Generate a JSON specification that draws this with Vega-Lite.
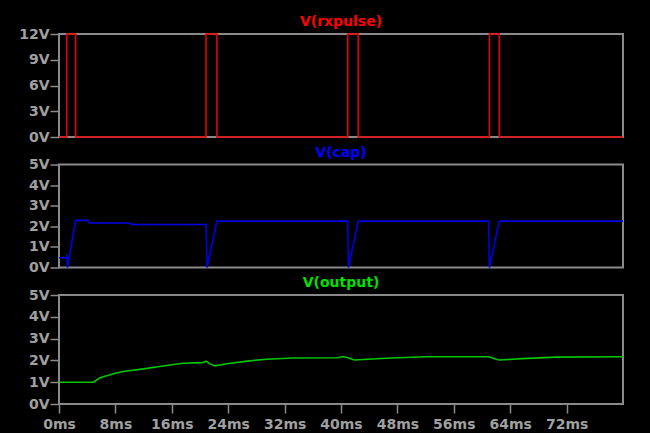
{
  "$schema": "https://vega.github.io/schema/vega-lite/v6.json",
  "background": "black",
  "padding": {"left": 17, "top": 14, "right": 27, "bottom": 1},
  "bounds": "flush",
  "spacing": 27.5,
  "config": {
    "view": {"stroke": "#8a8a8a", "strokeWidth": 2, "fill": "black"},
    "axis": {
      "grid": false,
      "domain": false,
      "tickColor": "#8a8a8a",
      "tickWidth": 1.5,
      "tickSize": 9,
      "labelColor": "#a0a0a0",
      "labelFont": "DejaVu Sans",
      "labelFontSize": 14,
      "labelFontWeight": "bold",
      "labelFlush": false,
      "labelOverlap": false,
      "title": null
    },
    "title": {"font": "DejaVu Sans", "fontSize": 14, "fontWeight": "bold", "frame": "group", "anchor": "middle", "offset": -2}
  },
  "datasets": {
    "rx": [
      {"t": 0, "v": 0}, {"t": 1.1, "v": 0}, {"t": 1.1, "v": 12}, {"t": 2.35, "v": 12}, {"t": 2.35, "v": 0},
      {"t": 20.85, "v": 0}, {"t": 20.85, "v": 12}, {"t": 22.4, "v": 12}, {"t": 22.4, "v": 0},
      {"t": 40.95, "v": 0}, {"t": 40.95, "v": 12}, {"t": 42.45, "v": 12}, {"t": 42.45, "v": 0},
      {"t": 61.05, "v": 0}, {"t": 61.05, "v": 12}, {"t": 62.45, "v": 12}, {"t": 62.45, "v": 0},
      {"t": 80, "v": 0}
    ],
    "cap": [
      {"t": 0, "v": 0.47}, {"t": 1.05, "v": 0.47}, {"t": 1.1, "v": 0.62}, {"t": 1.2, "v": 0.0},
      {"t": 2.35, "v": 2.29}, {"t": 4.1, "v": 2.29}, {"t": 4.3, "v": 2.16}, {"t": 10.0, "v": 2.16},
      {"t": 10.3, "v": 2.09}, {"t": 20.85, "v": 2.09}, {"t": 21.0, "v": 0.0}, {"t": 22.4, "v": 2.25},
      {"t": 40.95, "v": 2.25}, {"t": 41.05, "v": 0.0}, {"t": 42.45, "v": 2.25},
      {"t": 60.95, "v": 2.25}, {"t": 61.05, "v": 0.0}, {"t": 62.45, "v": 2.25}, {"t": 80, "v": 2.25}
    ],
    "out": [
      {"t": 0, "v": 1.0}, {"t": 4.9, "v": 1.0}, {"t": 5.8, "v": 1.2}, {"t": 8.0, "v": 1.41},
      {"t": 9.1, "v": 1.49}, {"t": 12.0, "v": 1.61}, {"t": 14.0, "v": 1.71}, {"t": 16.0, "v": 1.8},
      {"t": 17.6, "v": 1.87}, {"t": 20.4, "v": 1.9}, {"t": 20.9, "v": 1.96}, {"t": 21.4, "v": 1.84},
      {"t": 22.1, "v": 1.75}, {"t": 23.8, "v": 1.85}, {"t": 27.0, "v": 1.98}, {"t": 29.4, "v": 2.05},
      {"t": 33.2, "v": 2.11}, {"t": 39.5, "v": 2.12}, {"t": 40.3, "v": 2.18}, {"t": 41.2, "v": 2.1},
      {"t": 41.9, "v": 2.02}, {"t": 43.8, "v": 2.05}, {"t": 47.1, "v": 2.11}, {"t": 52.0, "v": 2.17},
      {"t": 61.0, "v": 2.17}, {"t": 61.6, "v": 2.1}, {"t": 62.4, "v": 2.02}, {"t": 65.7, "v": 2.08},
      {"t": 70.4, "v": 2.15}, {"t": 80, "v": 2.17}
    ]
  },
  "vconcat": [
    {
      "width": 564,
      "height": 103,
      "title": {"text": "V(rxpulse)", "color": "#ff0000"},
      "data": {"name": "rx"},
      "mark": {"type": "line", "color": "#e60000", "strokeWidth": 1.6, "clip": false},
      "encoding": {
        "x": {"field": "t", "type": "quantitative", "scale": {"domain": [0, 80], "nice": false}, "axis": null},
        "y": {"field": "v", "type": "quantitative", "scale": {"domain": [0, 12], "nice": false},
          "axis": {"values": [0, 3, 6, 9, 12], "labelExpr": "datum.value + 'V'", "labelPadding": 1}},
        "order": {"value": null}
      }
    },
    {
      "width": 564,
      "height": 103,
      "title": {"text": "V(cap)", "color": "#0000ff"},
      "data": {"name": "cap"},
      "mark": {"type": "line", "color": "#0000e6", "strokeWidth": 1.6},
      "encoding": {
        "x": {"field": "t", "type": "quantitative", "scale": {"domain": [0, 80], "nice": false}, "axis": null},
        "y": {"field": "v", "type": "quantitative", "scale": {"domain": [0, 5], "nice": false},
          "axis": {"values": [0, 1, 2, 3, 4, 5], "labelExpr": "datum.value + 'V'", "labelPadding": 1}},
        "order": {"value": null}
      }
    },
    {
      "width": 564,
      "height": 109,
      "title": {"text": "V(output)", "color": "#00e000"},
      "data": {"name": "out"},
      "mark": {"type": "line", "color": "#00c800", "strokeWidth": 1.6},
      "encoding": {
        "x": {"field": "t", "type": "quantitative", "scale": {"domain": [0, 80], "nice": false},
          "axis": {"values": [0, 8, 16, 24, 32, 40, 48, 56, 64, 72], "labelExpr": "datum.value + 'ms'", "labelPadding": 4}},
        "y": {"field": "v", "type": "quantitative", "scale": {"domain": [0, 5], "nice": false},
          "axis": {"values": [0, 1, 2, 3, 4, 5], "labelExpr": "datum.value + 'V'", "labelPadding": 1}},
        "order": {"value": null}
      }
    }
  ]
}
